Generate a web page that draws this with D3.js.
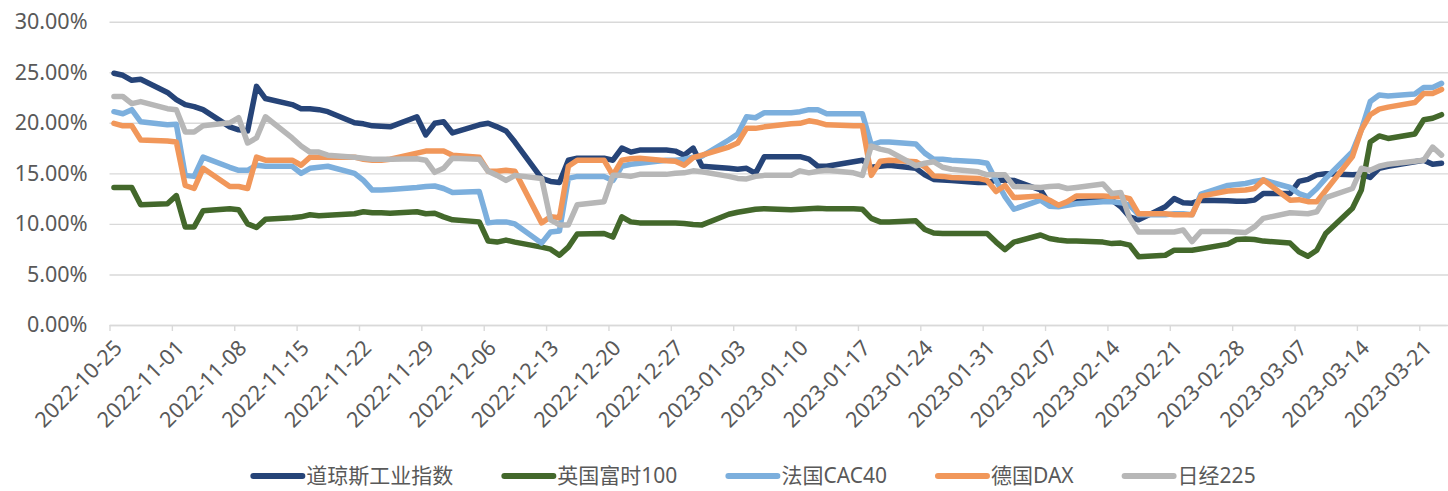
<!DOCTYPE html>
<html>
<head>
<meta charset="utf-8">
<script src="https://cdn.jsdelivr.net/npm/d3@7"></script>
<style>
  body { margin: 0; background: #fff; }
  svg { display: block; font-family: "Noto Sans", "Noto Sans CJK SC", sans-serif; }
</style>
</head>
<body>
<svg id="chart"></svg>
<script>
// trading days shown on the chart
const dates = [
  '2022-10-25','2022-10-26','2022-10-27','2022-10-28','2022-10-31',
  '2022-11-01','2022-11-02','2022-11-03','2022-11-04','2022-11-07',
  '2022-11-08','2022-11-09','2022-11-10','2022-11-11','2022-11-14',
  '2022-11-15','2022-11-16','2022-11-17','2022-11-18','2022-11-21',
  '2022-11-22','2022-11-23','2022-11-24','2022-11-25','2022-11-28',
  '2022-11-29','2022-11-30','2022-12-01','2022-12-02','2022-12-05',
  '2022-12-06','2022-12-07','2022-12-08','2022-12-09','2022-12-12',
  '2022-12-13','2022-12-14','2022-12-15','2022-12-16','2022-12-19',
  '2022-12-20','2022-12-21','2022-12-22','2022-12-23','2022-12-26',
  '2022-12-27','2022-12-28','2022-12-29','2022-12-30','2023-01-02',
  '2023-01-03','2023-01-04','2023-01-05','2023-01-06','2023-01-09',
  '2023-01-10','2023-01-11','2023-01-12','2023-01-13','2023-01-16',
  '2023-01-17','2023-01-18','2023-01-19','2023-01-20','2023-01-23',
  '2023-01-24','2023-01-25','2023-01-26','2023-01-27','2023-01-30',
  '2023-01-31','2023-02-01','2023-02-02','2023-02-03','2023-02-06',
  '2023-02-07','2023-02-08','2023-02-09','2023-02-10','2023-02-13',
  '2023-02-14','2023-02-15','2023-02-16','2023-02-17','2023-02-20',
  '2023-02-21','2023-02-22','2023-02-23','2023-02-24','2023-02-27',
  '2023-02-28','2023-03-01','2023-03-02','2023-03-03','2023-03-06',
  '2023-03-07','2023-03-08','2023-03-09','2023-03-10','2023-03-13',
  '2023-03-14','2023-03-15','2023-03-16','2023-03-17','2023-03-20',
  '2023-03-21','2023-03-22','2023-03-23'
];

// values in percent
const dowJones = [
  24.9, 24.7, 24.2, 24.3, 23.0,  22.3, 21.8, 21.6, 21.3, 19.6,
  19.3, 19.2, 23.6, 22.4, 21.8,  21.4, 21.4, 21.3, 21.1, 20.0,
  19.9, 19.7, 19.65, 19.6, 20.6,  18.8, 19.95, 20.1, 19.0, 19.8,
  19.95, 19.6, 19.2, 18.1, 14.5,  14.2, 14.1, 16.3, 16.5, 16.5,
  16.3, 17.5, 17.1, 17.3, 17.3,  17.2, 16.8, 17.5, 15.7, 15.5,
  15.4, 15.5, 15.0, 16.65, 16.65,  16.65, 16.4, 15.7, 15.7, 16.15,
  16.3, 15.6, 15.7, 15.8, 15.5,  14.85, 14.4, 14.35, 14.3, 14.1,
  14.1, 14.3, 14.35, 14.3, 13.35,  11.95, 11.85, 11.95, 12.2, 12.35,
  12.35, 11.7, 10.7, 10.4, 11.7,  12.5, 12.1, 12.05, 12.35, 12.3,
  12.25, 12.25, 12.35, 13.0, 13.0,  14.2, 14.4, 14.85, 14.95, 14.85,
  14.9, 14.6, 15.5, 15.7, 16.15,  16.3, 15.9, 16.0
];
const ftse100 = [
  13.6, 13.6, 13.6, 11.9, 12.0,  12.8, 9.7, 9.7, 11.3, 11.5,
  11.4, 10.0, 9.65, 10.45, 10.6,  10.7, 10.9, 10.8, 10.85, 11.0,
  11.2, 11.1, 11.1, 11.05, 11.2,  11.0, 11.05, 10.7, 10.4, 10.2,
  8.3, 8.2, 8.4, 8.2, 7.7,  7.5, 6.9, 7.7, 9.0, 9.05,
  8.7, 10.7, 10.2, 10.1, 10.1,  10.1, 10.05, 9.95, 9.9, 10.95,
  11.15, 11.3, 11.45, 11.5, 11.4,  11.45, 11.5, 11.55, 11.5, 11.5,
  11.45, 10.55, 10.2, 10.2, 10.3,  9.45, 9.1, 9.05, 9.05, 9.05,
  9.05, 8.2, 7.45, 8.2, 8.9,  8.55, 8.4, 8.3, 8.3, 8.2,
  8.05, 8.1, 7.9, 6.75, 6.9,  7.4, 7.4, 7.4, 7.55, 8.0,
  8.45, 8.5, 8.45, 8.3, 8.1,  7.25, 6.8, 7.4, 9.05, 11.55,
  13.35, 18.1, 18.7, 18.45, 18.9,  20.3, 20.45, 20.8
];
const cac40 = [
  21.1, 20.9, 21.3, 20.1, 19.8,  19.85, 14.8, 14.7, 16.6, 15.6,
  15.3, 15.3, 15.8, 15.7, 15.7,  15.0, 15.5, 15.6, 15.7, 15.0,
  14.3, 13.35, 13.35, 13.4, 13.6,  13.7, 13.75, 13.5, 13.1, 13.2,
  10.1, 10.2, 10.2, 10.0, 8.1,  9.2, 9.3, 14.5, 14.7, 14.7,
  14.3, 15.7, 15.9, 16.0, 16.3,  16.3, 16.4, 16.6, 16.7, 18.3,
  18.9, 20.6, 20.5, 21.0, 21.0,  21.1, 21.3, 21.3, 20.9, 20.9,
  20.9, 17.8, 18.1, 18.1, 17.9,  17.0, 16.4, 16.4, 16.3, 16.15,
  16.0, 14.3, 12.7, 11.45, 12.35,  11.75, 11.7, 11.85, 12.0, 12.2,
  12.2, 12.1, 11.85, 10.9, 10.9,  11.0, 11.0, 10.9, 12.95, 13.8,
  13.9, 14.0, 14.2, 14.35, 13.6,  13.0, 12.7, 13.5, 14.5, 17.15,
  19.3, 22.1, 22.75, 22.65, 22.85,  23.5, 23.5, 23.9
];
const dax = [
  19.95, 19.7, 19.7, 18.3, 18.2,  18.1, 13.8, 13.5, 15.5, 13.7,
  13.7, 13.5, 16.6, 16.3, 16.3,  15.8, 16.6, 16.6, 16.6, 16.6,
  16.4, 16.3, 16.3, 16.4, 17.0,  17.2, 17.2, 17.2, 16.8, 16.6,
  15.2, 15.2, 15.3, 15.2, 10.1,  10.7, 10.6, 15.7, 16.3, 16.3,
  14.8, 16.3, 16.45, 16.5, 16.25,  16.2, 15.8, 16.55, 16.8, 17.6,
  18.0, 19.45, 19.45, 19.6, 19.9,  19.95, 20.2, 20.05, 19.8, 19.7,
  19.7, 14.8, 16.2, 16.3, 16.15,  15.65, 14.75, 14.7, 14.6, 14.5,
  14.3, 13.2, 13.8, 12.6, 12.75,  12.35, 11.85, 12.2, 12.75, 12.75,
  12.7, 12.7, 12.5, 11.0, 11.0,  10.9, 10.9, 10.9, 12.75, 13.25,
  13.3, 13.35, 13.5, 14.35, 12.35,  12.4, 12.2, 12.2, 13.3, 16.65,
  19.3, 20.8, 21.35, 21.55, 22.0,  22.9, 22.9, 23.3
];
const nikkei225 = [
  22.6, 22.6, 21.9, 22.1, 21.4,  21.3, 19.1, 19.1, 19.7, 20.0,
  20.5, 18.0, 18.5, 20.6, 18.5,  17.7, 17.1, 17.1, 16.8, 16.6,
  16.5, 16.4, 16.4, 16.4, 16.45,  16.3, 15.1, 15.5, 16.5, 16.4,
  15.2, 14.8, 14.3, 14.8, 14.5,  10.4, 9.9, 9.9, 11.9, 12.2,
  14.8, 14.8, 14.7, 14.9, 14.9,  15.0, 15.05, 15.25, 15.15, 14.7,
  14.5, 14.45, 14.7, 14.8, 14.8,  15.25, 15.05, 15.2, 15.3, 15.05,
  14.8, 17.7, 17.4, 17.2, 15.75,  16.0, 16.15, 15.6, 15.4, 15.15,
  14.85, 14.85, 14.85, 13.7, 13.6,  13.7, 13.75, 13.5, 13.6, 13.95,
  13.0, 13.1, 10.55, 9.2, 9.2,  9.2, 9.4, 8.25, 9.25, 9.25,
  9.2, 9.15, 9.7, 10.55, 11.1,  11.05, 11.0, 11.2, 12.6, 13.5,
  15.5, 15.3, 15.7, 15.9, 16.2,  16.3, 17.6, 16.8
];

const seriesNames = ['道琼斯工业指数', '英国富时100', '法国CAC40', '德国DAX', '日经225'];
const seriesValues = [dowJones, ftse100, cac40, dax, nikkei225];
const seriesColors = ['#264478', '#43682b', '#7cafdd', '#f1975a', '#b7b7b7'];

const tickDates = [
  '2022-10-25','2022-11-01','2022-11-08','2022-11-15','2022-11-22','2022-11-29',
  '2022-12-06','2022-12-13','2022-12-20','2022-12-27','2023-01-03','2023-01-10',
  '2023-01-17','2023-01-24','2023-01-31','2023-02-07','2023-02-14','2023-02-21',
  '2023-02-28','2023-03-07','2023-03-14','2023-03-21'
];
const yTicks = [0, 5, 10, 15, 20, 25, 30];

const width = 1448;
const height = 491;
const plot = {left: 109.5, right: 1446, top: 21.7, bottom: 325};
const labelColor = '#595959';
const gridColor = '#d9d9d9';

const parseDate = d3.utcParse('%Y-%m-%d');

const svg = d3.select('#chart')
  .attr('width', width)
  .attr('height', height);

svg.append('rect')
  .attr('width', width)
  .attr('height', height)
  .attr('fill', '#fff');

const xScale = d3.scaleUtc()
  .domain([parseDate('2022-10-25'), parseDate('2023-03-24')])
  .range([plot.left, plot.right]);

const yScale = d3.scaleLinear()
  .domain([0, 30])
  .range([plot.bottom, plot.top]);

// y axis with gridlines
const yAxis = d3.axisLeft(yScale)
  .tickValues(yTicks)
  .tickFormat(d => d.toFixed(2) + '%')
  .tickSize(-(width - plot.left))
  .tickPadding(22);

const yAxisGroup = svg.append('g')
  .attr('transform', `translate(${plot.left}, 0)`)
  .call(yAxis);
yAxisGroup.select('.domain').remove();
yAxisGroup.selectAll('line')
  .attr('stroke', gridColor)
  .attr('stroke-width', 1.4);
yAxisGroup.selectAll('text')
  .attr('fill', labelColor)
  .attr('font-size', 21.5)
  .attr('font-family', '"Noto Sans", sans-serif');

// x axis, date labels turned 45 degrees
const xAxis = d3.axisBottom(xScale)
  .tickValues(tickDates.map(parseDate))
  .tickFormat(d3.utcFormat('%Y-%m-%d'))
  .tickSize(6)
  .tickSizeOuter(0);

const xAxisGroup = svg.append('g')
  .attr('transform', `translate(0, ${plot.bottom})`)
  .call(xAxis);
xAxisGroup.select('.domain')
  .attr('stroke', gridColor)
  .attr('stroke-width', 1.4);
xAxisGroup.selectAll('line')
  .attr('stroke', gridColor)
  .attr('stroke-width', 1.4);
xAxisGroup.selectAll('text')
  .attr('y', null)
  .attr('dy', '0.35em')
  .attr('text-anchor', 'end')
  .attr('transform', 'translate(8, 19) rotate(-45)')
  .attr('fill', labelColor)
  .attr('font-size', 21.5)
  .attr('font-family', '"Noto Sans", sans-serif');

// lines, points sit in the middle of each day
const line = d3.line()
  .x(d => xScale(d3.utcHour.offset(d.date, 12)))
  .y(d => yScale(d.value));

seriesValues.forEach((values, i) => {
  const points = dates.map((d, j) => ({date: parseDate(d), value: values[j]}));
  svg.append('path')
    .datum(points)
    .attr('d', line)
    .attr('fill', 'none')
    .attr('stroke', seriesColors[i])
    .attr('stroke-width', 5.5)
    .attr('stroke-linejoin', 'round')
    .attr('stroke-linecap', 'round');
});

// legend
const legend = svg.append('g');
let cursor = 0;
seriesNames.forEach((name, i) => {
  legend.append('line')
    .attr('x1', cursor + 3)
    .attr('x2', cursor + 52)
    .attr('y1', 0)
    .attr('y2', 0)
    .attr('stroke', seriesColors[i])
    .attr('stroke-width', 6)
    .attr('stroke-linecap', 'round');
  const label = legend.append('text')
    .text(name)
    .attr('x', cursor + 56)
    .attr('y', 0)
    .attr('dy', '0.35em')
    .attr('fill', labelColor)
    .attr('font-size', 21)
    .attr('font-family', '"Noto Sans", "Noto Sans CJK SC", sans-serif');
  cursor += 56 + label.node().getComputedTextLength() + 48;
});
cursor -= 48;
legend.attr('transform', `translate(${753 - cursor / 2}, 476)`);
</script>
</body>
</html>
